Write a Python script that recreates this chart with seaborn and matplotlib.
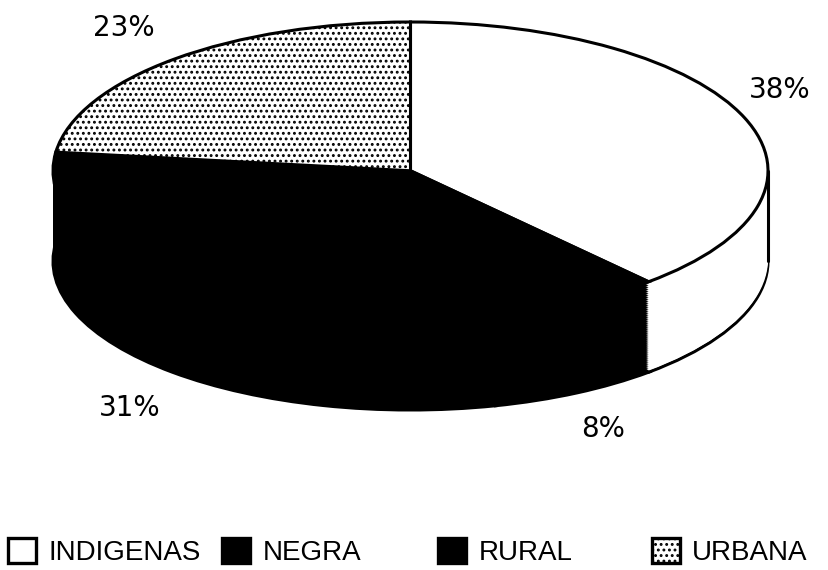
import matplotlib
matplotlib.use('Agg')
import matplotlib.pyplot as plt
from matplotlib.patches import Patch
import seaborn as sns

categorias = ['INDIGENAS', 'NEGRA', 'RURAL', 'URBANA']
valores = [38.4, 7.8, 30.8, 23.0]
cores = ['#ffffff', '#000000', '#000000', '#ffffff']

sns.set_theme(style='white')
plt.rcParams['font.family'] = ['DejaVu Sans']
plt.rcParams['hatch.linewidth'] = 1.3
paleta = sns.color_palette(cores)

W, H = 829, 570
fig = plt.figure(figsize=(W / 100, H / 100), dpi=100)

# eixo posicionado de forma que o circulo unitario vire a elipse do topo
esq, dir_, topo, base = 53, 768, 22, 410
ax = fig.add_axes([esq / W, 1 - base / H, (dir_ - esq) / W, (base - topo) / H])
ry = 148
prof = 90 / ry

# parede lateral: pilha de pizzas de baixo para cima
n_camadas = 45
for i in range(n_camadas + 1):
    dy = -prof * (1 - i / n_camadas)
    edge = 'black' if i == 0 else 'none'
    ax.pie(valores, colors=paleta, startangle=90, counterclock=False, radius=1,
           center=(0, dy), frame=True,
           wedgeprops={'edgecolor': edge, 'linewidth': 2.2})

# face de cima
fatias, _ = ax.pie(valores, colors=paleta, startangle=90, counterclock=False, radius=1,
                   center=(0, 0), frame=True,
                   wedgeprops={'edgecolor': 'black', 'linewidth': 2.2})
fatias[3].set_hatch('...')

ax.plot([1, 1], [0, -prof], color='black', lw=2.2, clip_on=False)

ax.set_aspect('auto')
ax.set_xlim(-1, 1)
ax.set_ylim(-1 - prof, 1)
ax.axis('off')

# rotulos de porcentagem
pos_rotulos = [(780, 90), (603, 429), (130, 408), (124, 28)]
for v, (x, y) in zip(valores, pos_rotulos):
    fig.text(x / W, 1 - y / H, f'{round(v)}%', fontsize=20, color='black',
             ha='center', va='center')

# legenda com colunas iguais
pos_legenda = [8, 222, 438, 652]
hatches = [None, None, None, '...']
for cat, cor, x, h in zip(categorias, paleta, pos_legenda, hatches):
    handle = Patch(facecolor=cor, edgecolor='black', linewidth=2.4, hatch=h, label=cat)
    fig.legend(handles=[handle], loc='center left', bbox_to_anchor=(x / W, 1 - 552 / H),
               frameon=False, handlelength=1.0, handleheight=1.0,
               handletextpad=0.45, borderpad=0, borderaxespad=0, labelcolor='black',
               prop={'family': ['Liberation Sans', 'DejaVu Sans'], 'size': 20})

fig.savefig('out.png', dpi=100)
plt.close()
